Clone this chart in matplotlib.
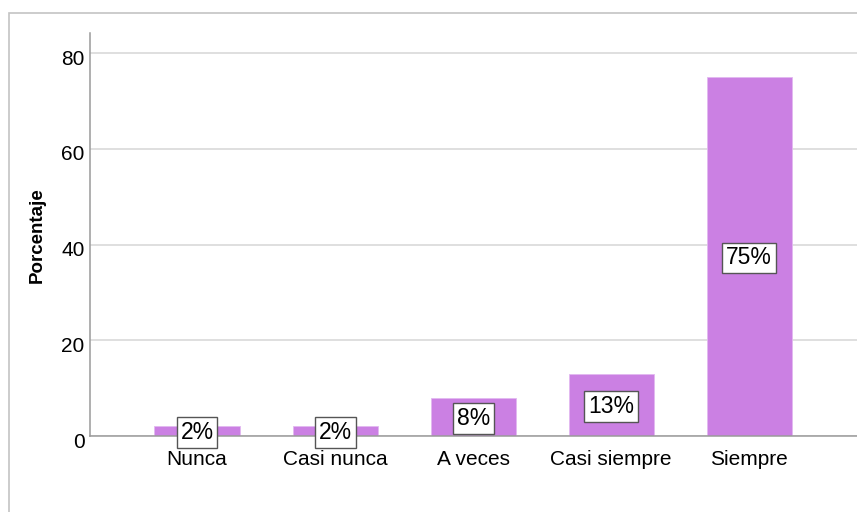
import numpy as np
import matplotlib.pyplot as plt
from matplotlib.patches import Rectangle
from matplotlib.transforms import ScaledTranslation

plt.rcParams['font.family'] = ['Liberation Sans', 'DejaVu Sans']

# Data
categories = ['Nunca', 'Casi nunca', 'A veces', 'Casi siempre', 'Siempre']
percentages = [2, 2, 8, 13, 75]
bar_labels = ['2%', '2%', '8%', '13%', '75%']
y_ticks = [0, 20, 40, 60, 80]

fig = plt.figure(figsize=(8.57, 5.12), dpi=100)

# light gray outer frame (runs off the right/bottom edges)
fig.patches.append(Rectangle((8.5 / 857, -0.1), 1.2, 1 - 12.5 / 512 + 0.1,
                             transform=fig.transFigure, fill=False,
                             edgecolor='#c4c4c4', linewidth=1.2))

ax = fig.add_axes([90 / 857, 1 - 436 / 512, 1 - 90 / 857, (436 - 33) / 512])

x = np.arange(len(categories))
ax.bar(x, percentages, width=0.616, color='#cb80e3', edgecolor='#e2b8f0',
       linewidth=0.6, zorder=2)

for xi, v, lab in zip(x, percentages, bar_labels):
    ax.text(xi, v / 2 - 0.3, lab, ha='center', va='center', fontsize=16.5,
            zorder=4,
            bbox=dict(boxstyle='square,pad=0.17', facecolor='white',
                      edgecolor='#555555', linewidth=1))

ax.set_xlim(-0.775, 4.78)
ax.set_ylim(0, 84.2)
ax.set_yticks(y_ticks)
ax.set_xticks(x)
ax.set_xticklabels(categories)
ax.tick_params(axis='both', length=0, labelsize=15, colors='black')
ax.tick_params(axis='x', pad=10)
ax.tick_params(axis='y', pad=4)
for lbl in ax.get_yticklabels():
    lbl.set_transform(lbl.get_transform() + ScaledTranslation(0, -0.04, fig.dpi_scale_trans))

ax.yaxis.grid(True, color='#d6d6d6', linewidth=1.1, zorder=0)
ax.set_axisbelow(True)

for side in ['top', 'right']:
    ax.spines[side].set_visible(False)
ax.spines['left'].set_color('#9a9a9a')
ax.spines['bottom'].set_color('#9a9a9a')
ax.spines['left'].set_linewidth(1.1)
ax.spines['bottom'].set_linewidth(1.1)

fig.text(37 / 857, 1 - 235 / 512, 'Porcentaje', rotation=90, ha='center',
         va='center', fontsize=13.5, fontweight='bold')

plt.savefig('out.png', dpi=100)
